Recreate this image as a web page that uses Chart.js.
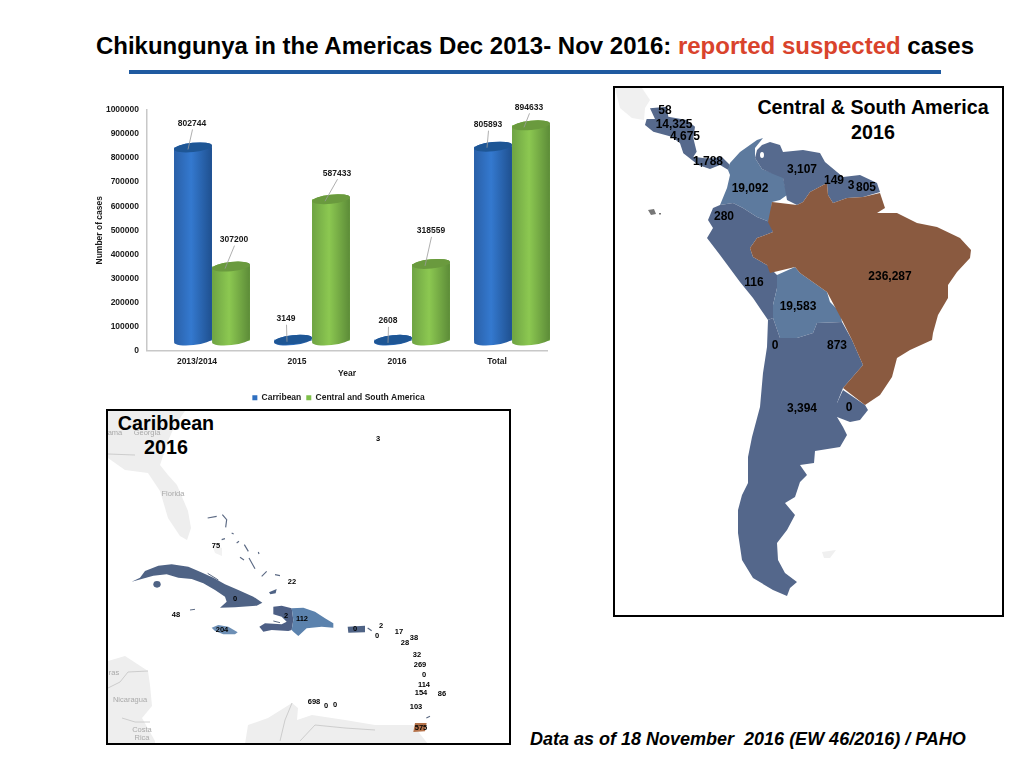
<!DOCTYPE html>
<html><head><meta charset="utf-8">
<script src="https://cdn.jsdelivr.net/npm/chart.js@4"></script>
<style>
html,body{margin:0;padding:0;background:#fff;width:1024px;height:768px;overflow:hidden;font-family:"Liberation Sans",Arial,sans-serif}
#title{position:absolute;left:0;width:1070px;top:32px;text-align:center;font-weight:bold;font-size:24px;line-height:28px;color:#000;white-space:nowrap}
#title span{color:#d9432c}
#rule{position:absolute;left:129px;top:70px;width:812px;height:4px;background:#1f5aa0}
#chartBox{position:absolute;left:90px;top:95px;width:480px;height:315px}
#foot{position:absolute;left:530px;top:729px;font-weight:bold;font-style:italic;font-size:18px;line-height:20px;white-space:pre;color:#000}
svg{position:absolute;left:0;top:0}
svg polygon{stroke-linejoin:round}
.mapL{font:bold 12px "Liberation Sans",Arial,sans-serif;fill:#000;text-anchor:middle;dominant-baseline:central;filter:blur(.3px)}
.carL{font:bold 7.5px "Liberation Sans",Arial,sans-serif;fill:#000;text-anchor:middle;dominant-baseline:central;filter:blur(.25px)}
.hd{font:bold 19.7px "Liberation Sans",Arial,sans-serif;fill:#000;text-anchor:middle;dominant-baseline:central}
.faint{font:7.5px "Liberation Sans",Arial,sans-serif;fill:#aaa;text-anchor:middle;dominant-baseline:central;filter:blur(.2px)}
</style></head><body>
<div id="title">Chikungunya in the Americas Dec 2013- Nov 2016: <span>reported suspected</span> cases</div>
<div id="rule"></div>

<svg width="1024" height="768" viewBox="0 0 1024 768">
 <defs>
  <clipPath id="cs"><rect x="615" y="88" width="387" height="527"/></clipPath>
  <clipPath id="cb"><rect x="108" y="411" width="401" height="332"/></clipPath>
 </defs>
 <!-- Central & South America map -->
 <g clip-path="url(#cs)">
  <polygon fill="#f0f0f0" points="615,88 642,88 650,100 645,108 644,120 632,118 620,108"/>
  <g transform="translate(640,95) scale(0.33333)">
   <polygon fill="#56698c" points="30,40 80,35 85,65 140,75 165,95 160,130 170,170 160,185 195,190 220,190 245,185 270,210 265,225 240,210 210,222 175,210 130,175 120,145 95,125 40,110 15,90 20,72 45,72"/>
  </g>
  <polygon fill="#5d7a9e" points="728,170 730,163 740,152 757,140 763,138 755,148 755,158 762,169 778,175 783,177 787,195 780,200 772,202 770,222 757,217 743,208 733,203 720,205 727,188 730,175"/>
  <polygon fill="#566a8e" points="762,145 770,142 780,145 783,152 803,150 820,153 825,162 837,172 843,177 860,175 877,183 880,192 863,197 847,198 833,203 828,195 827,183 810,192 803,202 797,205 787,200 783,178 773,174 762,169 755,158 757,150"/>
  <ellipse cx="762" cy="155" rx="2" ry="3" fill="#fff"/>
  <polygon fill="#54678b" points="720,205 733,203 743,208 757,217 770,222 773,232 757,238 750,248 753,257 767,265 777,275 777,288 773,305 773,318 768,320 753,298 740,282 720,255 707,238 713,228 708,220 713,208"/>
  <polygon fill="#5d7a9e" points="777,275 795,267 800,273 827,292 830,302 840,312 842,322 817,323 813,333 797,338 780,338 773,318 773,305 777,288"/>
  <polygon fill="#54678b" points="768,320 773,318 780,338 797,338 813,333 817,323 842,322 852,340 863,365 843,388 837,403 837,417 843,427 847,435 840,447 815,451 814,463 800,465 807,475 800,482 795,497 785,503 795,515 787,530 777,543 778,560 785,573 797,582 790,588 787,596 773,590 753,578 742,560 738,533 738,510 742,495 748,483 748,457 752,437 760,407 763,373 767,347"/>
  <polygon fill="#54678b" points="843,390 865,405 868,410 860,420 850,422 837,417 837,403"/>
  <polygon fill="#8a5a40" points="772,202 797,205 803,202 810,192 827,183 828,195 833,203 847,198 863,197 880,193 885,208 877,213 890,213 897,213 917,223 937,227 960,238 971,250 970,258 957,272 948,285 948,298 938,315 933,333 932,340 910,350 897,358 892,377 880,395 865,405 843,388 863,365 852,340 843,322 827,292 800,273 795,267 770,273 767,265 753,257 750,248 757,238 773,232 768,222"/>
  <polygon fill="#777" points="648,210 654,209 656,214 651,215"/><rect x="659" y="213" width="2" height="1.5" fill="#777"/>
  <polygon fill="#f0f0f0" points="822,552 836,550 830,558 824,558"/>
  <text class="mapL" x="665" y="110">58</text>
  <text class="mapL" x="674" y="124">14,325</text>
  <text class="mapL" x="685" y="136">4,675</text>
  <text class="mapL" x="708" y="161">1,788</text>
  <text class="mapL" x="750" y="188">19,092</text>
  <text class="mapL" x="802" y="169">3,107</text>
  <text class="mapL" x="834" y="180">149</text>
  <text class="mapL" x="851" y="185">3</text>
  <text class="mapL" x="866" y="187">805</text>
  <text class="mapL" x="724" y="216">280</text>
  <text class="mapL" x="754" y="282">116</text>
  <text class="mapL" x="890" y="276">236,287</text>
  <text class="mapL" x="798" y="306">19,583</text>
  <text class="mapL" x="775" y="345">0</text>
  <text class="mapL" x="837" y="345">873</text>
  <text class="mapL" x="802" y="408">3,394</text>
  <text class="mapL" x="849" y="407">0</text>
  <text class="hd" x="873" y="107">Central &amp; South America</text>
  <text class="hd" x="873" y="132">2016</text>
 </g>
 <rect x="614" y="87" width="389" height="529" fill="none" stroke="#000" stroke-width="2"/>

 <!-- Caribbean map -->
 <g clip-path="url(#cb)">
  <polygon fill="#eeeeee" points="108,411 185,411 175,425 168,441 160,465 168,475 177,485 188,511 191,528 187,540 180,536 168,518 160,491 148,473 125,470 108,458"/>
  <polygon fill="#eeeeee" points="108,661 125,656 148,671 150,685 152,706 142,718 155,741 155,744 108,744"/>
  <polygon fill="#eeeeee" points="245,744 248,725 268,718 292,703 298,708 297,720 312,715 345,720 375,725 413,725 428,744"/>
  <polygon fill="#f2f2f2" points="212,545 222,548 222,556 215,553"/>
  <g fill="none" stroke="#c4c4c4" stroke-width="0.8">
   <polyline points="108,688 120,682 128,672 148,671"/>
   <polyline points="122,718 135,722 150,722"/>
   <polyline points="280,741 285,720 292,703"/>
   <polyline points="300,741 315,725 345,728 375,730"/>
   <polyline points="108,454 135,455"/>
  </g>
  <text class="faint" x="173" y="493">Florida</text>
  <text class="faint" x="130" y="699">Nicaragua</text>
  <text class="faint" x="142" y="729">Costa</text>
  <text class="faint" x="142" y="737">Rica</text>
  <text class="faint" x="114" y="672">ras</text>
  <text class="faint" x="115" y="432">ama</text>
  <text class="faint" x="147" y="432">Georgia</text>
  <g transform="translate(125,555) scale(0.33333)">
   <polygon fill="#4f6385" points="20,80 45,68 60,48 100,32 140,28 190,35 225,50 265,68 300,88 340,105 385,125 412,143 395,152 330,157 285,158 305,140 300,125 270,105 235,85 200,72 160,68 125,58 85,62 50,72"/>
   <ellipse cx="96" cy="88" rx="11" ry="10" fill="#4f6385"/>
   <polygon fill="#4d5f85" points="445,155 470,152 500,160 505,195 500,225 490,228 440,225 415,230 403,215 420,205 470,208 485,200 470,185 445,178"/>
   <polygon fill="#5b82ad" points="500,160 535,158 570,170 600,190 625,205 625,218 590,215 545,220 520,243 505,230 500,225 505,195"/>
   <polygon fill="#6d8fb5" points="260,218 280,210 310,215 338,232 330,238 295,238 270,228"/>
   <polygon fill="#4f6385" points="668,215 720,212 720,232 670,233"/>
   <polygon fill="#4f6385" points="432,112 455,102 452,115 436,118"/>
   <g fill="none" stroke="#5c6a84" stroke-width="3"><path d="M195 165L210 163M445 198L465 203M248 55L280 75"/></g>
  </g>
  <g transform="translate(105,408) scale(0.33333)">
   <polygon fill="#b5724a" points="930,945 965,945 960,970 925,972"/>
   <g fill="none" stroke="#5c6a84" stroke-width="3.5">
    <path d="M308 330L335 325M352 320L365 335L362 358M380 375L386 378M395 405L402 400M418 410L430 430M460 432L462 438M405 448L417 456M432 450L450 482M470 505L485 490M510 500L525 503M350 395L360 392M964 930L975 925M800 668L788 660"/>
   </g>
  </g>
  <text class="carL" x="378" y="438">3</text>
  <text class="carL" x="216" y="545">75</text>
  <text class="carL" x="292" y="581">22</text>
  <text class="carL" x="235" y="598">0</text>
  <text class="carL" x="176" y="614">48</text>
  <text class="carL" x="286" y="615">2</text>
  <text class="carL" x="302" y="618">112</text>
  <text class="carL" x="222" y="629">204</text>
  <text class="carL" x="355" y="628">0</text>
  <text class="carL" x="381" y="625">2</text>
  <text class="carL" x="377" y="635">0</text>
  <text class="carL" x="399" y="631">17</text>
  <text class="carL" x="414" y="637">38</text>
  <text class="carL" x="405" y="642">28</text>
  <text class="carL" x="417" y="654">32</text>
  <text class="carL" x="420" y="664">269</text>
  <text class="carL" x="424" y="674">0</text>
  <text class="carL" x="424" y="684">114</text>
  <text class="carL" x="421" y="692">154</text>
  <text class="carL" x="442" y="693">86</text>
  <text class="carL" x="314" y="701">698</text>
  <text class="carL" x="326" y="705">0</text>
  <text class="carL" x="335" y="704">0</text>
  <text class="carL" x="416" y="706">103</text>
  <text class="carL" x="421" y="727">575</text>
  <text class="hd" x="166" y="423">Caribbean</text>
  <text class="hd" x="166" y="447">2016</text>
 </g>
 <rect x="107" y="410" width="403" height="334" fill="none" stroke="#000" stroke-width="2"/>
</svg>

<div id="chartBox"><canvas id="c" width="480" height="315"></canvas></div>
<div id="foot">Data as of 18 November  2016 (EW 46/2016) / PAHO</div>

<script>
const categories = ["2013/2014", "2015", "2016", "Total"];
const carribean = [802744, 3149, 2608, 805893];
const centralSouth = [307200, 587433, 318559, 894633];
const seriesNames = ["Carribean", "Central and South America"];
const yTicksMax = 1000000;

// pseudo-3D look: the cylinders stand behind the axis plane
const DEPTH_X = 15, DEPTH_Y = -10, RY = 4.6, TILT = -6 * Math.PI / 180;
// label / leader offsets relative to each bar top
const labelOffsets = [
  [[-1,-24,-5,2],[-7,-21,-6,2],[-5,-19,-5,3],[-5,-22,-6,1]],
  [[3,-27,-6,2],[6,-26,-6,2],[0,-33,-6,2],[-2,-18,-7,2]]
];
const palettes = [
  {l:"#2a60a8", m:"#3479cf", r:"#1f508f", top:"#1e5695"},
  {l:"#6ea343", m:"#8cc851", r:"#5c8b38", top:"#6a9a3e"}
];
const FONT = '"Liberation Sans", Arial, sans-serif';

const cylinders = {
  id: "cylinders",
  beforeDatasetDraw(chart) {
    chart.ctx.save();
    chart.ctx.translate(DEPTH_X, DEPTH_Y);
  },
  afterDatasetDraw(chart) {
    chart.ctx.restore();
  },
  afterDatasetsDraw(chart) {
    const ctx = chart.ctx;
    // blue first, so that the green cylinders overlap them
    chart.data.datasets.forEach((ds, i) => {
      const p = palettes[i];
      chart.getDatasetMeta(i).data.forEach(bar => {
        const cx = bar.x + DEPTH_X, top = bar.y + DEPTH_Y, bot = bar.base + DEPTH_Y;
        const rx = bar.width / 2;
        const g = ctx.createLinearGradient(cx - rx, 0, cx + rx, 0);
        g.addColorStop(0, p.l); g.addColorStop(0.45, p.m); g.addColorStop(1, p.r);
        ctx.beginPath();
        ctx.ellipse(cx, bot, rx, RY, TILT, 0, Math.PI);
        ctx.lineTo(cx - rx * Math.cos(TILT), top - rx * Math.sin(TILT));
        ctx.ellipse(cx, top, rx, RY, TILT, Math.PI, 2 * Math.PI);
        ctx.closePath();
        ctx.fillStyle = g; ctx.fill();
        ctx.beginPath();
        ctx.ellipse(cx, top, rx, RY, TILT, 0, 2 * Math.PI);
        ctx.fillStyle = p.top; ctx.fill();
      });
    });
    ctx.save();
    ctx.font = "bold 8.5px " + FONT;
    ctx.textAlign = "center"; ctx.textBaseline = "middle";
    chart.data.datasets.forEach((ds, i) => {
      chart.getDatasetMeta(i).data.forEach((bar, j) => {
        const [lx, ly, ex, ey] = labelOffsets[i][j];
        const cx = bar.x + DEPTH_X, top = bar.y + DEPTH_Y;
        ctx.strokeStyle = "#9a9a9a"; ctx.lineWidth = 0.8;
        ctx.beginPath();
        ctx.moveTo(cx + lx + 0.5, top + ly + 6);
        ctx.lineTo(cx + ex, top + ey);
        ctx.stroke();
        ctx.fillStyle = "#1a1a1a";
        ctx.fillText(String(ds.data[j]), cx + lx, top + ly);
      });
    });
    ctx.restore();
  },
  afterLayout(chart) {
    chart.legend.left += 20; chart.legend.right += 20;
    chart.legend.top += 2; chart.legend.bottom += 2;
  }
};

new Chart(document.getElementById("c"), {
  type: "bar",
  plugins: [cylinders],
  data: {
    labels: categories,
    datasets: [
      {label: seriesNames[0], data: carribean, backgroundColor: "#2f6fc0", clip: false},
      {label: seriesNames[1], data: centralSouth, backgroundColor: "#7fbf4a", clip: false}
    ]
  },
  options: {
    responsive: false, animation: false,
    layout: {padding: {left: 0, right: 23, top: 15, bottom: 0}},
    datasets: {bar: {categoryPercentage: 0.76, barPercentage: 1}},
    plugins: {
      tooltip: {enabled: false},
      legend: {
        position: "bottom",
        labels: {boxWidth: 5, boxHeight: 5, padding: 5, color: "#1a1a1a",
                 font: {family: FONT, size: 8.5, weight: "bold"}}
      }
    },
    scales: {
      x: {
        afterFit(s) { s.height = 36; },
        grid: {display: false, drawTicks: false},
        border: {display: true, color: "#c8c8c8", width: 1.5},
        ticks: {padding: 6, color: "#1a1a1a", font: {family: FONT, size: 8.5, weight: "bold"}},
        title: {display: true, text: "Year", color: "#1a1a1a", padding: {top: 0, bottom: 8},
                font: {family: FONT, size: 8.5, weight: "bold"}}
      },
      y: {
        afterFit(s) { s.width = 57; },
        min: 0, max: yTicksMax,
        grid: {display: false, drawTicks: false},
        border: {display: true, color: "#c8c8c8", width: 1.5},
        ticks: {stepSize: 100000, padding: 8, color: "#1a1a1a", font: {family: FONT, size: 8.5, weight: "bold"},
                callback: v => String(v)},
        title: {display: true, text: "Number of cases", color: "#1a1a1a", padding: {top: 5, bottom: 5},
                font: {family: FONT, size: 8.5, weight: "bold"}}
      }
    }
  }
});
</script>
</body></html>
